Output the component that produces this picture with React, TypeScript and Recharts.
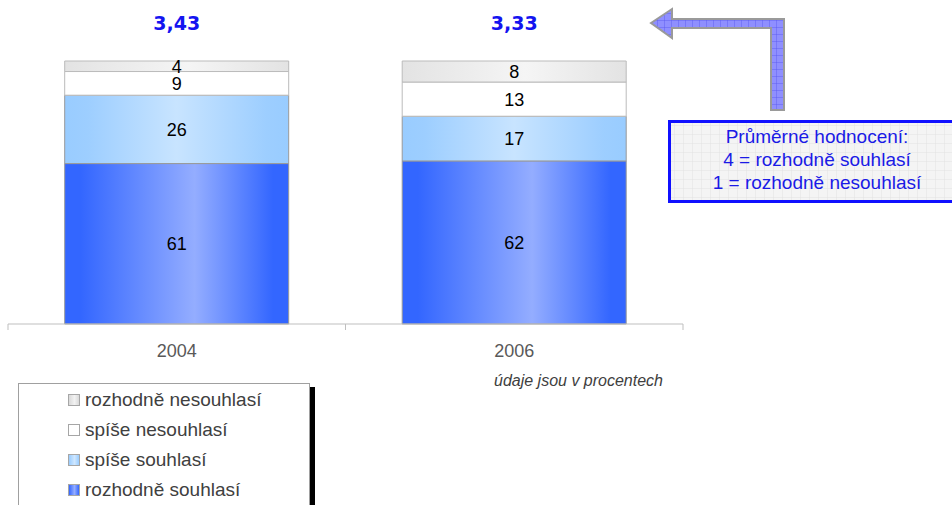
import React from 'react';
import { BarChart, Bar, XAxis, YAxis, LabelList } from 'recharts';

// ---- data ----
const years = ['2004', '2006'];
const rozhodneSouhlasi = [61, 62];
const spiseSouhlasi = [26, 17];
const spiseNesouhlasi = [9, 13];
const rozhodneNesouhlasi = [4, 8];
const averages = [3.43, 3.33];

const seriesNames = {
  rs: 'rozhodně souhlasí',
  ss: 'spíše souhlasí',
  sn: 'spíše nesouhlasí',
  rn: 'rozhodně nesouhlasí',
};

const annotationLines = ['Průměrné hodnocení:', '4 = rozhodně souhlasí', '1 = rozhodně nesouhlasí'];
const noteText = 'údaje jsou v procentech';

const data = years.map((year, i) => ({
  year,
  rs: rozhodneSouhlasi[i],
  ss: spiseSouhlasi[i],
  sn: spiseNesouhlasi[i],
  rn: rozhodneNesouhlasi[i],
  avg: averages[i],
}));

// ---- layout ----
const W = 952;
const H = 505;
const MARGIN = { top: 61, right: 269, left: 8, bottom: 151 };
const AXIS_H = 30;
const PLOT_W = W - MARGIN.left - MARGIN.right;
const BAND = PLOT_W / years.length;
const FONT = '"Liberation Sans", Arial, sans-serif';

const fmtAvg = (v: number) => v.toFixed(2).replace('.', ',');

const YearTick = (props: any) => {
  const { x, y, payload, index } = props;
  const axisY = y - 6;
  const isLast = index === years.length - 1;
  return (
    <g>
      <line x1={x - BAND / 2} x2={x - BAND / 2} y1={axisY} y2={axisY + 6} stroke="#bfbfbf" />
      {isLast && <line x1={x + BAND / 2} x2={x + BAND / 2} y1={axisY} y2={axisY + 6} stroke="#bfbfbf" />}
      <text x={x} y={y + 27} textAnchor="middle" fill="#595959" fontSize={18} fontFamily={FONT}>
        {payload.value}
      </text>
    </g>
  );
};

const AvgLabel = (props: any) => {
  const { x, y, width, value } = props;
  return (
    <text
      x={Number(x) + Number(width) / 2}
      y={Number(y) - 38}
      textAnchor="middle"
      dominantBaseline="central"
      fill="#1414f0"
      fontWeight="bold"
      fontSize={19}
      fontFamily='"DejaVu Sans", Verdana, sans-serif'
    >
      {fmtAvg(Number(value))}
    </text>
  );
};

const swatchStyles: Record<string, React.CSSProperties> = {
  rn: { background: 'linear-gradient(90deg,#d9d9d9,#f2f2f2 55%,#d9d9d9)', border: '1px solid #a6a6a6' },
  sn: { background: '#ffffff', border: '1px solid #a6a6a6' },
  ss: { background: 'linear-gradient(90deg,#99ccff,#cfe7ff 55%,#99ccff)', border: '1px solid #a6a6a6' },
  rs: { background: 'linear-gradient(90deg,#3366ff,#94adff 55%,#3366ff)', border: '1px solid #a6a6a6' },
};

const legendOrder = ['rn', 'sn', 'ss', 'rs'];

const LegendBox = () => (
  <div
    style={{
      position: 'absolute',
      left: 18,
      top: 383,
      width: 292,
      height: 140,
      border: '1px solid #a0a0a0',
      boxShadow: '5px 4px 0 #000',
      background: '#fff',
      boxSizing: 'border-box',
      paddingTop: 1,
      paddingLeft: 49,
    }}
  >
    {legendOrder.map((k) => (
      <div key={k} style={{ display: 'flex', alignItems: 'center', height: 30 }}>
        <span style={{ display: 'inline-block', width: 10, height: 10, marginRight: 5, ...swatchStyles[k] }} />
        <span style={{ fontFamily: FONT, fontSize: 19, color: '#404040', lineHeight: '30px' }}>
          {seriesNames[k as keyof typeof seriesNames]}
        </span>
      </div>
    ))}
  </div>
);

const labelStyle = { fill: '#000', fontSize: 18, fontFamily: FONT };

export default function App() {
  return (
    <div style={{ position: 'absolute', left: 0, top: 0, width: W, height: H, overflow: 'hidden', background: '#fff' }}>
      <BarChart width={W} height={H} data={data} margin={MARGIN} barCategoryGap="16.8%">
        <XAxis
          dataKey="year"
          height={AXIS_H}
          axisLine={{ stroke: '#bfbfbf' }}
          tickLine={false}
          tickSize={6}
          tickMargin={0}
          interval={0}
          tick={<YearTick />}
        />
        <YAxis hide domain={[0, 100]} />
        <Bar dataKey="rs" stackId="a" fill="url(#gBlue)" stroke="#999999" isAnimationActive={false}>
          <LabelList dataKey="rs" position="center" style={labelStyle} />
        </Bar>
        <Bar dataKey="ss" stackId="a" fill="url(#gLight)" stroke="#999999" isAnimationActive={false}>
          <LabelList dataKey="ss" position="center" style={labelStyle} />
        </Bar>
        <Bar dataKey="sn" stackId="a" fill="#ffffff" stroke="#bbbbbb" isAnimationActive={false}>
          <LabelList dataKey="sn" position="center" style={labelStyle} />
        </Bar>
        <Bar dataKey="rn" stackId="a" fill="url(#gGray)" stroke="#bbbbbb" isAnimationActive={false}>
          <LabelList dataKey="rn" position="center" style={labelStyle} />
          <LabelList dataKey="avg" content={<AvgLabel />} />
        </Bar>
      </BarChart>
      <LegendBox />
      <svg width={W} height={H} style={{ position: 'absolute', left: 0, top: 0, pointerEvents: 'none' }}>
        <defs>
          <linearGradient id="gBlue" x1="0" y1="0" x2="1" y2="0">
            <stop offset="0" stopColor="#3366ff" />
            <stop offset="0.07" stopColor="#3366ff" />
            <stop offset="0.58" stopColor="#94adff" />
            <stop offset="0.93" stopColor="#3366ff" />
            <stop offset="1" stopColor="#3366ff" />
          </linearGradient>
          <linearGradient id="gLight" x1="0" y1="0" x2="1" y2="0">
            <stop offset="0" stopColor="#99ccff" />
            <stop offset="0.1" stopColor="#9dceff" />
            <stop offset="0.5" stopColor="#c8e4ff" />
            <stop offset="0.9" stopColor="#9dceff" />
            <stop offset="1" stopColor="#99ccff" />
          </linearGradient>
          <linearGradient id="gGray" x1="0" y1="0" x2="1" y2="0">
            <stop offset="0" stopColor="#e3e3e3" />
            <stop offset="0.55" stopColor="#f5f5f5" />
            <stop offset="1" stopColor="#e3e3e3" />
          </linearGradient>
          <pattern id="arrowGrid" width="7" height="7" patternUnits="userSpaceOnUse">
            <rect width="7" height="7" fill="#8f8fff" />
            <path d="M7 0 V7 M0 7 H7" stroke="#5555ee" strokeWidth="0.8" />
          </pattern>
          <pattern id="boxGrid" width="9" height="9" patternUnits="userSpaceOnUse">
            <rect width="9" height="9" fill="#f4f4f4" />
            <path d="M9 0 V9 M0 9 H9" stroke="#e2e2e2" strokeWidth="1" />
          </pattern>
        </defs>
        <path
          d="M651,23 L672,9 L672,19 L784,19 L784,110 L771,110 L771,28 L672,28 L672,38 Z"
          fill="url(#arrowGrid)"
          stroke="#9a9a9a"
          strokeWidth={2}
          strokeLinejoin="miter"
        />
        <rect x={669.5} y={121.5} width={300} height={80} fill="url(#boxGrid)" stroke="#1010ff" strokeWidth={3} />
        {annotationLines.map((t, i) => (
          <text key={i} x={817} y={143 + i * 23} textAnchor="middle" fill="#1a1ae6" fontSize={19} fontFamily={FONT}>
            {t}
          </text>
        ))}
        <text x={663} y={386} textAnchor="end" fill="#404040" fontSize={16} fontStyle="italic" fontFamily={FONT}>
          {noteText}
        </text>
      </svg>
    </div>
  );
}
